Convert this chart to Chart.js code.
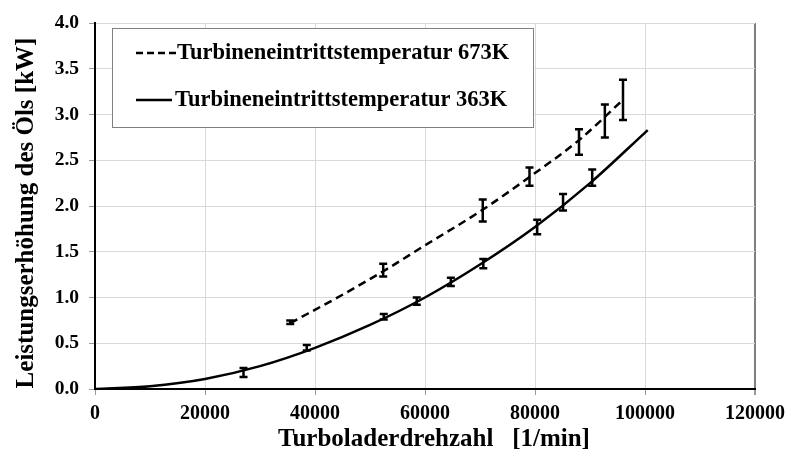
<!DOCTYPE html>
<html>
<head>
<meta charset="utf-8">
<script src="https://cdn.jsdelivr.net/npm/chart.js@4.4.1/dist/chart.umd.min.js"></script>
<style>
  html, body { margin: 0; padding: 0; background: #fff; }
  #wrap { width: 785px; height: 455px; }
</style>
</head>
<body>
<div id="wrap"><canvas id="chart" width="785" height="455"></canvas></div>
<script>
// Drehzahl [1/min] und Leistungserhoehung [kW]
var xTicks = [0, 20000, 40000, 60000, 80000, 100000, 120000];

// Messpunkte 673K mit Streuung
var mess673X = [35500, 52400, 70500, 79000, 88000, 92700, 96000];
var mess673Y = [0.73, 1.30, 1.95, 2.32, 2.70, 2.93, 3.16];
var mess673Err = [0.02, 0.07, 0.12, 0.10, 0.14, 0.18, 0.22];

// Messpunkte 363K mit Streuung
var mess363X = [27000, 38500, 52500, 58500, 64700, 70600, 80400, 85100, 90400];
var mess363Y = [0.18, 0.45, 0.79, 0.96, 1.17, 1.37, 1.77, 2.04, 2.31];
var mess363Err = [0.05, 0.03, 0.03, 0.04, 0.045, 0.05, 0.08, 0.09, 0.09];

// Ausgleichskurven
var kurve673X = [35500, 45000, 52500, 60000, 70000, 80000, 88000, 96000];
var kurve673Y = [0.72, 1.03, 1.29, 1.57, 1.94, 2.36, 2.72, 3.16];
var kurve363X = [0, 10000, 20000, 30000, 40000, 50000, 60000, 70000, 80000, 90000, 100500];
var kurve363Y = [0, 0.03, 0.11, 0.25, 0.45, 0.70, 1.00, 1.36, 1.77, 2.25, 2.83];

var label673 = "Turbineneintrittstemperatur 673K";
var label363 = "Turbineneintrittstemperatur 363K";
var xTitle = "Turboladerdrehzahl   [1/min]";
var yTitle = "Leistungserhöhung des Öls [kW]";

function pts(xs, ys) {
  return xs.map(function (x, i) { return { x: x, y: ys[i] }; });
}

var FONT = "'Liberation Serif', 'Times New Roman', serif";

// Fehlerbalken
var errorBars = {
  id: 'errorBars',
  afterDatasetsDraw: function (chart) {
    var ctx = chart.ctx;
    var yScale = chart.scales.y;
    chart.data.datasets.forEach(function (ds, i) {
      if (!ds.errors) return;
      var meta = chart.getDatasetMeta(i);
      ctx.save();
      ctx.strokeStyle = '#000';
      ctx.lineWidth = 2.5;
      meta.data.forEach(function (pt, j) {
        var v = ds.data[j].y, e = ds.errors[j];
        var top = yScale.getPixelForValue(v + e);
        var bot = yScale.getPixelForValue(v - e);
        ctx.beginPath();
        ctx.moveTo(pt.x, top); ctx.lineTo(pt.x, bot);
        ctx.moveTo(pt.x - 4, top); ctx.lineTo(pt.x + 4, top);
        ctx.moveTo(pt.x - 4, bot); ctx.lineTo(pt.x + 4, bot);
        ctx.stroke();
      });
      ctx.restore();
    });
  }
};

// Achsentitel
var axisTitles = {
  id: 'axisTitles',
  afterDraw: function (chart) {
    var ctx = chart.ctx, a = chart.chartArea;
    ctx.save();
    ctx.fillStyle = '#000';
    ctx.font = 'bold 25px ' + FONT;
    ctx.textAlign = 'center';
    ctx.textBaseline = 'middle';
    ctx.fillText(xTitle, (a.left + a.right) / 2 + 9, 440);
    ctx.translate(27, (a.top + a.bottom) / 2 + 7);
    ctx.rotate(-Math.PI / 2);
    ctx.fillText(yTitle, 0, 0);
    ctx.restore();
  }
};

// Legende im Diagramm
var legendBox = {
  id: 'legendBox',
  afterDraw: function (chart) {
    var ctx = chart.ctx;
    ctx.save();
    ctx.fillStyle = '#fff';
    ctx.fillRect(112, 28, 421, 99);
    ctx.strokeStyle = '#808080';
    ctx.lineWidth = 1;
    ctx.strokeRect(112.5, 28.5, 421, 99);
    var rows = chart.data.datasets.filter(function (d) { return d.inLegend; });
    rows.forEach(function (ds, k) {
      var y = 53 + k * 47;
      var dashed = !!ds.borderDash;
      ctx.strokeStyle = '#000';
      ctx.lineWidth = 2.5;
      ctx.setLineDash(dashed ? [7, 4] : []);
      ctx.beginPath();
      ctx.moveTo(136, y); ctx.lineTo(dashed ? 176 : 172, y);
      ctx.stroke();
      ctx.setLineDash([]);
      ctx.fillStyle = '#000';
      ctx.font = 'bold 22.5px ' + FONT;
      ctx.textBaseline = 'middle';
      ctx.fillText(ds.label, dashed ? 177 : 175, y);
    });
    ctx.restore();
  }
};

new Chart(document.getElementById('chart'), {
  type: 'scatter',
  data: {
    datasets: [
      {
        label: label673, inLegend: true,
        data: pts(kurve673X, kurve673Y),
        showLine: true, borderColor: '#000', borderWidth: 2.5,
        borderDash: [8, 5], pointRadius: 0,
        cubicInterpolationMode: 'monotone'
      },
      {
        label: label363, inLegend: true,
        data: pts(kurve363X, kurve363Y),
        showLine: true, borderColor: '#000', borderWidth: 2.5,
        pointRadius: 0, cubicInterpolationMode: 'monotone'
      },
      {
        label: 'Messung 673K', data: pts(mess673X, mess673Y),
        errors: mess673Err, pointRadius: 0, showLine: false
      },
      {
        label: 'Messung 363K', data: pts(mess363X, mess363Y),
        errors: mess363Err, pointRadius: 0, showLine: false
      }
    ]
  },
  options: {
    responsive: false,
    animation: false,
    events: [],
    layout: { padding: { top: 23, right: 30, left: 0, bottom: 0 } },
    plugins: { legend: { display: false }, tooltip: { enabled: false } },
    scales: {
      x: {
        type: 'linear', min: 0, max: 120000,
        afterBuildTicks: function (s) { s.ticks = xTicks.map(function (v) { return { value: v }; }); },
        afterFit: function (s) { s.height = 66; s.paddingLeft = 0; s.paddingRight = 0; },
        border: { color: '#000', width: 2 },
        grid: {
          color: function (c) { return c.tick && c.tick.value === 120000 ? '#7f7f7f' : '#d9d9d9'; },
          lineWidth: function (c) { return c.tick && c.tick.value === 120000 ? 2 : 1; },
          tickLength: 6, tickColor: '#999'
        },
        ticks: {
          color: '#000', padding: 7, maxRotation: 0,
          font: { family: FONT, size: 20, weight: 'bold' },
          callback: function (v) { return String(v); }
        }
      },
      y: {
        min: 0, max: 4,
        afterFit: function (s) { s.width = 95; s.paddingTop = 0; s.paddingBottom = 0; },
        border: { color: '#000', width: 2 },
        grid: { color: '#d9d9d9', lineWidth: 1, tickLength: 6, tickColor: '#999' },
        ticks: {
          stepSize: 0.5, color: '#000', padding: 10,
          font: { family: FONT, size: 19.5, weight: 'bold' },
          callback: function (v) { return v.toFixed(1); }
        }
      }
    }
  },
  plugins: [errorBars, legendBox, axisTitles]
});
</script>
</body>
</html>
